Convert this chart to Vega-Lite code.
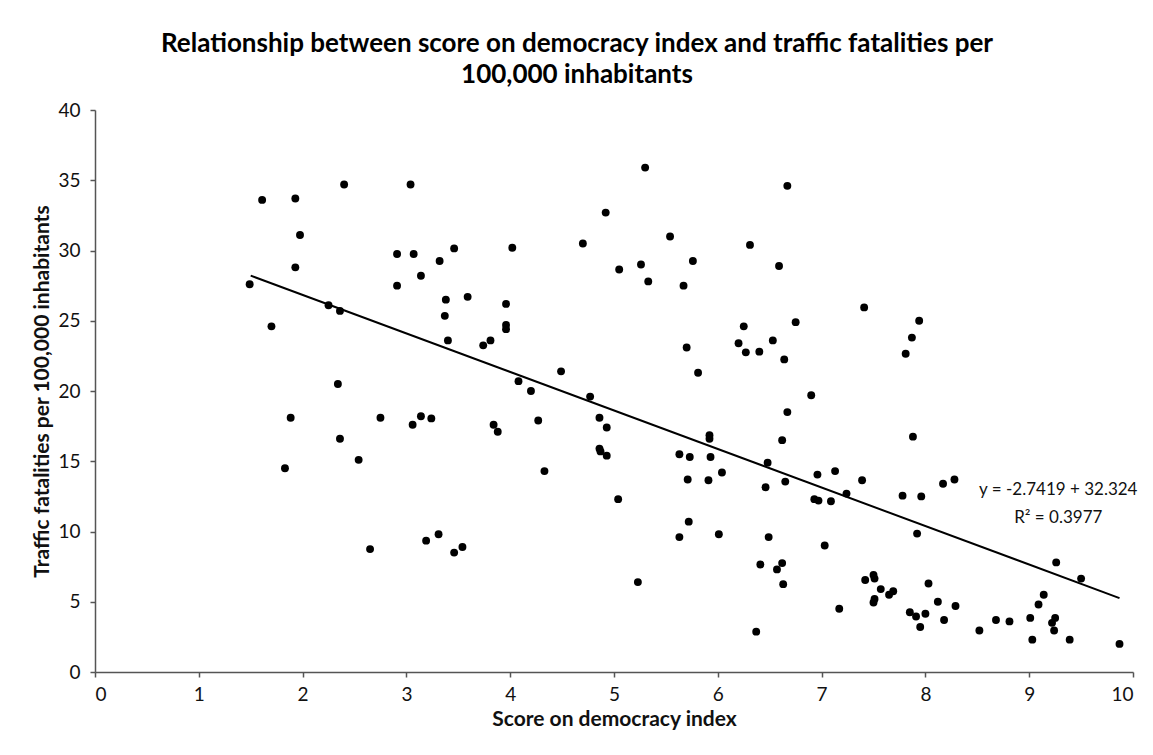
{
  "$schema": "https://vega.github.io/schema/vega-lite/v6.json",
  "width": 1038,
  "height": 562,
  "autosize": "none",
  "padding": {"left": 95, "top": 110, "right": 20, "bottom": 83},
  "background": "white",
  "config": {
    "view": {"stroke": null},
    "font": "Lato",
    "axis": {
      "grid": false,
      "domainColor": "#555555",
      "domainWidth": 1.5,
      "tickColor": "#555555",
      "tickWidth": 1.5,
      "tickSize": 5,
      "labelFont": "Lato",
      "labelColor": "#111111",
      "titleFont": "Lato",
      "titleFontWeight": "bold",
      "titleColor": "#111111"
    }
  },
  "title": {
    "text": ["Relationship between score on democracy index and traffic fatalities per", "100,000 inhabitants"],
    "font": "Lato",
    "fontSize": 26,
    "fontWeight": "bold",
    "color": "#000000",
    "anchor": "middle",
    "dx": -37,
    "offset": 13,
    "lineHeight": 31
  },
  "datasets": {
    "points": [
      {"democracy": 1.49, "fatalities": 27.6}, {"democracy": 1.61, "fatalities": 33.6}, {"democracy": 1.70, "fatalities": 24.6},
      {"democracy": 1.83, "fatalities": 14.5}, {"democracy": 1.885, "fatalities": 18.1}, {"democracy": 1.93, "fatalities": 33.7},
      {"democracy": 1.93, "fatalities": 28.8}, {"democracy": 1.975, "fatalities": 31.1}, {"democracy": 2.25, "fatalities": 26.1},
      {"democracy": 2.34, "fatalities": 20.5}, {"democracy": 2.36, "fatalities": 25.7}, {"democracy": 2.36, "fatalities": 16.6},
      {"democracy": 2.40, "fatalities": 34.7}, {"democracy": 2.54, "fatalities": 15.1}, {"democracy": 2.65, "fatalities": 8.75},
      {"democracy": 2.75, "fatalities": 18.1}, {"democracy": 2.91, "fatalities": 29.75}, {"democracy": 2.91, "fatalities": 27.5},
      {"democracy": 3.04, "fatalities": 34.7}, {"democracy": 3.06, "fatalities": 17.6}, {"democracy": 3.07, "fatalities": 29.75},
      {"democracy": 3.14, "fatalities": 28.2}, {"democracy": 3.14, "fatalities": 18.2}, {"democracy": 3.19, "fatalities": 9.35},
      {"democracy": 3.24, "fatalities": 18.05}, {"democracy": 3.31, "fatalities": 9.8}, {"democracy": 3.32, "fatalities": 29.25},
      {"democracy": 3.37, "fatalities": 25.35}, {"democracy": 3.38, "fatalities": 26.5}, {"democracy": 3.40, "fatalities": 23.6},
      {"democracy": 3.46, "fatalities": 30.15}, {"democracy": 3.46, "fatalities": 8.5}, {"democracy": 3.54, "fatalities": 8.9},
      {"democracy": 3.59, "fatalities": 26.7}, {"democracy": 3.74, "fatalities": 23.25}, {"democracy": 3.81, "fatalities": 23.6},
      {"democracy": 3.84, "fatalities": 17.6}, {"democracy": 3.88, "fatalities": 17.1}, {"democracy": 3.96, "fatalities": 26.2},
      {"democracy": 3.96, "fatalities": 24.7}, {"democracy": 3.96, "fatalities": 24.4}, {"democracy": 4.02, "fatalities": 30.2},
      {"democracy": 4.08, "fatalities": 20.7}, {"democracy": 4.20, "fatalities": 20.0}, {"democracy": 4.27, "fatalities": 17.9},
      {"democracy": 4.33, "fatalities": 14.3}, {"democracy": 4.49, "fatalities": 21.4}, {"democracy": 4.70, "fatalities": 30.5},
      {"democracy": 4.77, "fatalities": 19.6}, {"democracy": 4.86, "fatalities": 18.1}, {"democracy": 4.86, "fatalities": 15.9},
      {"democracy": 4.87, "fatalities": 15.7}, {"democracy": 4.92, "fatalities": 32.7}, {"democracy": 4.93, "fatalities": 17.4},
      {"democracy": 4.93, "fatalities": 15.4}, {"democracy": 5.04, "fatalities": 12.3}, {"democracy": 5.05, "fatalities": 28.65},
      {"democracy": 5.23, "fatalities": 6.4}, {"democracy": 5.26, "fatalities": 29.0}, {"democracy": 5.30, "fatalities": 35.9},
      {"democracy": 5.33, "fatalities": 27.8}, {"democracy": 5.54, "fatalities": 31.0}, {"democracy": 5.63, "fatalities": 15.5},
      {"democracy": 5.63, "fatalities": 9.6}, {"democracy": 5.67, "fatalities": 27.5}, {"democracy": 5.70, "fatalities": 23.1},
      {"democracy": 5.71, "fatalities": 13.7}, {"democracy": 5.72, "fatalities": 10.7}, {"democracy": 5.73, "fatalities": 15.3},
      {"democracy": 5.76, "fatalities": 29.25}, {"democracy": 5.81, "fatalities": 21.3}, {"democracy": 5.91, "fatalities": 13.65},
      {"democracy": 5.92, "fatalities": 16.85}, {"democracy": 5.92, "fatalities": 16.6}, {"democracy": 5.93, "fatalities": 15.3},
      {"democracy": 6.01, "fatalities": 9.8}, {"democracy": 6.04, "fatalities": 14.2}, {"democracy": 6.20, "fatalities": 23.4},
      {"democracy": 6.25, "fatalities": 24.6}, {"democracy": 6.27, "fatalities": 22.75}, {"democracy": 6.31, "fatalities": 30.4},
      {"democracy": 6.37, "fatalities": 2.87}, {"democracy": 6.40, "fatalities": 22.8}, {"democracy": 6.41, "fatalities": 7.65},
      {"democracy": 6.46, "fatalities": 13.15}, {"democracy": 6.48, "fatalities": 14.9}, {"democracy": 6.49, "fatalities": 9.6},
      {"democracy": 6.53, "fatalities": 23.6}, {"democracy": 6.57, "fatalities": 7.3}, {"democracy": 6.59, "fatalities": 28.9},
      {"democracy": 6.62, "fatalities": 16.5}, {"democracy": 6.62, "fatalities": 7.75}, {"democracy": 6.63, "fatalities": 6.25},
      {"democracy": 6.64, "fatalities": 22.25}, {"democracy": 6.65, "fatalities": 13.55}, {"democracy": 6.67, "fatalities": 34.6},
      {"democracy": 6.67, "fatalities": 18.5}, {"democracy": 6.75, "fatalities": 24.9}, {"democracy": 6.90, "fatalities": 19.7},
      {"democracy": 6.93, "fatalities": 12.3}, {"democracy": 6.96, "fatalities": 14.05}, {"democracy": 6.97, "fatalities": 12.2},
      {"democracy": 7.03, "fatalities": 9.0}, {"democracy": 7.09, "fatalities": 12.15}, {"democracy": 7.13, "fatalities": 14.3},
      {"democracy": 7.17, "fatalities": 4.5}, {"democracy": 7.24, "fatalities": 12.7}, {"democracy": 7.39, "fatalities": 13.65},
      {"democracy": 7.41, "fatalities": 25.95}, {"democracy": 7.42, "fatalities": 6.55}, {"democracy": 7.50, "fatalities": 6.9},
      {"democracy": 7.51, "fatalities": 6.65}, {"democracy": 7.51, "fatalities": 5.2}, {"democracy": 7.50, "fatalities": 4.95},
      {"democracy": 7.57, "fatalities": 5.9}, {"democracy": 7.65, "fatalities": 5.5}, {"democracy": 7.69, "fatalities": 5.75},
      {"democracy": 7.78, "fatalities": 12.55}, {"democracy": 7.81, "fatalities": 22.65}, {"democracy": 7.85, "fatalities": 4.25},
      {"democracy": 7.87, "fatalities": 23.8}, {"democracy": 7.88, "fatalities": 16.75}, {"democracy": 7.91, "fatalities": 3.95},
      {"democracy": 7.92, "fatalities": 9.85}, {"democracy": 7.94, "fatalities": 25.0}, {"democracy": 7.95, "fatalities": 3.2},
      {"democracy": 7.96, "fatalities": 12.5}, {"democracy": 8.00, "fatalities": 4.15}, {"democracy": 8.03, "fatalities": 6.3},
      {"democracy": 8.12, "fatalities": 5.0}, {"democracy": 8.17, "fatalities": 13.4}, {"democracy": 8.18, "fatalities": 3.7},
      {"democracy": 8.28, "fatalities": 13.7}, {"democracy": 8.29, "fatalities": 4.7}, {"democracy": 8.52, "fatalities": 2.95},
      {"democracy": 8.68, "fatalities": 3.7}, {"democracy": 8.81, "fatalities": 3.6}, {"democracy": 9.01, "fatalities": 3.85},
      {"democracy": 9.03, "fatalities": 2.3}, {"democracy": 9.09, "fatalities": 4.8}, {"democracy": 9.14, "fatalities": 5.5},
      {"democracy": 9.22, "fatalities": 3.5}, {"democracy": 9.25, "fatalities": 3.85}, {"democracy": 9.24, "fatalities": 2.95},
      {"democracy": 9.26, "fatalities": 7.8}, {"democracy": 9.39, "fatalities": 2.3}, {"democracy": 9.50, "fatalities": 6.65},
      {"democracy": 9.87, "fatalities": 2.0}
    ],
    "trend": [
      {"democracy": 1.5, "fatalities": 28.21},
      {"democracy": 9.87, "fatalities": 5.26}
    ],
    "labels": [
      {"democracy": 9.28, "fatalities": 12.95, "label": "y = -2.7419 + 32.324"},
      {"democracy": 9.28, "fatalities": 10.96, "label": "R² = 0.3977"}
    ]
  },
  "layer": [
    {
      "data": {"name": "points"},
      "mark": {"type": "point", "filled": true, "shape": "circle", "size": 62, "color": "#000000", "opacity": 1},
      "encoding": {
        "x": {"field": "democracy", "type": "quantitative", "scale": {"domain": [0, 10], "nice": false},
          "axis": {"values": [0,1,2,3,4,5,6,7,8,9,10], "format": "d", "title": "Score on democracy index", "titleFontSize": 21, "labelFontSize": 19, "labelPadding": 8, "titlePadding": 4}},
        "y": {"field": "fatalities", "type": "quantitative", "scale": {"domain": [0, 40], "nice": false},
          "axis": {"values": [0,5,10,15,20,25,30,35,40], "format": "d", "title": "Traffic fatalities per 100,000 inhabitants", "titleFontSize": 21, "labelFontSize": 19, "labelPadding": 10, "titlePadding": 5}}
      }
    },
    {
      "data": {"name": "trend"},
      "mark": {"type": "line", "color": "#000000", "strokeWidth": 2},
      "encoding": {
        "x": {"field": "democracy", "type": "quantitative"},
        "y": {"field": "fatalities", "type": "quantitative"}
      }
    },
    {
      "data": {"name": "labels"},
      "mark": {"type": "text", "font": "Lato", "fontSize": 17, "color": "#111111", "align": "center", "baseline": "middle"},
      "encoding": {
        "x": {"field": "democracy", "type": "quantitative"},
        "y": {"field": "fatalities", "type": "quantitative"},
        "text": {"field": "label"}
      }
    }
  ]
}
